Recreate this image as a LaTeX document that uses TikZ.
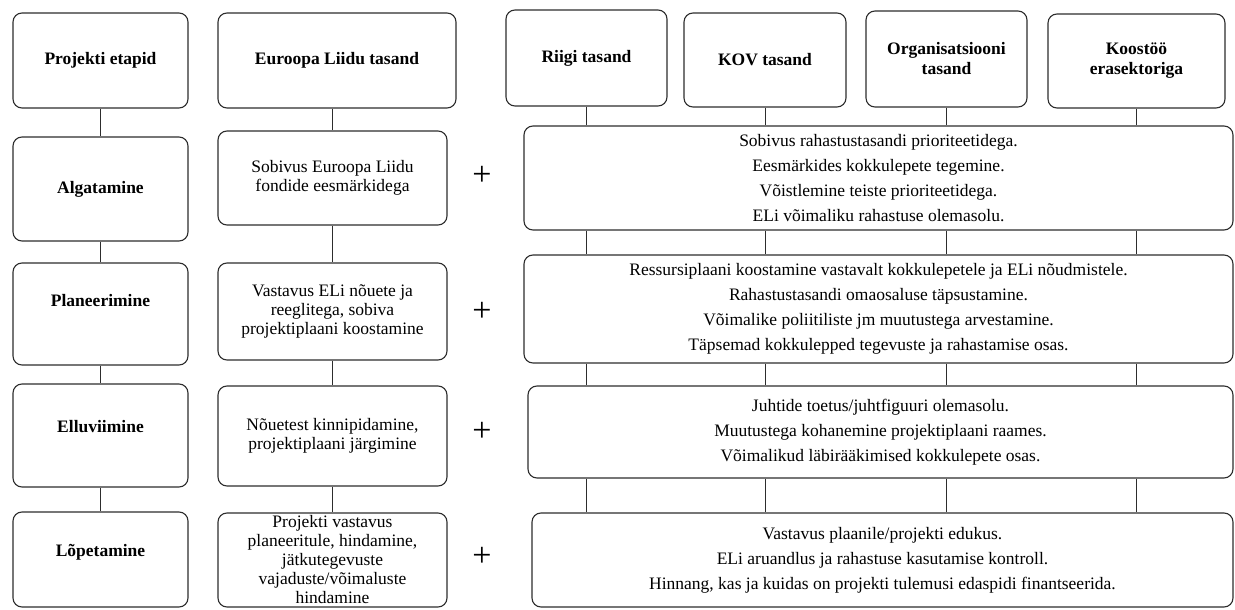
\documentclass[tikz,border=0pt]{standalone}
\usepackage{fontspec}
\setmainfont{Liberation Serif}
\usepackage{tikz}
\definecolor{boxline}{RGB}{45,45,45}

\begin{document}
\begin{tikzpicture}[x=1pt,y=-1pt,
  box/.style={draw=boxline,line width=1.1pt,rounded corners=9pt,inner sep=2pt,align=center},
  head/.style={box,font=\fontsize{17.5}{20}\selectfont\bfseries},
  stage/.style={head,minimum width=175pt},
  eubox/.style={box,inner ysep=0pt,font=\fontsize{17.5}{19}\selectfont},
  bigbox/.style={box,font=\fontsize{17.5}{25}\selectfont},
  lift/.style={text depth=#1},
  link/.style={draw=boxline,line width=1pt},
  plus/.style={font=\fontsize{34}{34}\selectfont}]
  \useasboundingbox (0,0) rectangle (1235,610);
  % project stages
  \node[stage,minimum height=95pt] (p0) at (100.5,60.5) {Projekti etapid};
  \node[stage,minimum height=104pt] (p1) at (100.5,189) {Algatamine};
  \node[stage,minimum height=102pt,lift=28pt] (p2) at (100.5,314) {Planeerimine};
  \node[stage,minimum height=103pt,lift=18pt] (p3) at (100.5,435.5) {Elluviimine};
  \node[stage,minimum height=95pt,lift=18pt] (p4) at (100.5,559.5) {Lõpetamine};
  \draw[link] (p0) -- (p1);
  \draw[link] (p1) -- (p2);
  \draw[link] (p2) -- (p3);
  \draw[link] (p3) -- (p4);
  % EU level
  \node[head,minimum width=238pt,minimum height=95pt] (e0) at (337,60.5) {Euroopa Liidu tasand};
  \node[eubox,minimum width=229pt,minimum height=94pt] (e1) at (332.5,178) {Sobivus Euroopa Liidu\\fondide eesmärkidega};
  \node[eubox,minimum width=229pt,minimum height=97pt] (e2) at (332.5,311.5) {Vastavus ELi nõuete ja\\reeglitega, sobiva\\projektiplaani koostamine};
  \node[eubox,minimum width=229pt,minimum height=100pt] (e3) at (332.5,436) {Nõuetest kinnipidamine,\\projektiplaani järgimine};
  \node[eubox,minimum width=229pt,minimum height=94pt] (e4) at (332.5,560) {Projekti vastavus\\planeeritule, hindamine,\\jätkutegevuste\\vajaduste/võimaluste\\hindamine};
  \draw[link] (e1.north |- e0.south) -- (e1.north);
  \draw[link] (e1) -- (e2);
  \draw[link] (e2) -- (e3);
  \draw[link] (e3) -- (e4);
  % plus signs
  \node[plus] (plus1) at (482,176) {+};
  \node[plus] (plus2) at (482,312) {+};
  \node[plus] (plus3) at (482,432) {+};
  \node[plus] (plus4) at (482,557) {+};
  % national, local, organisation and private levels
  \node[head,minimum width=161pt,minimum height=96pt] (h1) at (586.5,58) {Riigi tasand};
  \node[head,minimum width=162pt,minimum height=94pt] (h2) at (765,60) {KOV tasand};
  \node[head,minimum width=161pt,minimum height=96pt] (h3) at (946.5,59) {Organisatsiooni\\tasand};
  \node[head,minimum width=177pt,minimum height=94pt] (h4) at (1136.5,61) {Koostöö\\erasektoriga};
  \node[bigbox,minimum width=709pt,minimum height=104pt] (r1) at (878.5,178) {Sobivus rahastustasandi prioriteetidega.\\Eesmärkides kokkulepete tegemine.\\Võistlemine teiste prioriteetidega.\\ELi võimaliku rahastuse olemasolu.};
  \node[bigbox,minimum width=709pt,minimum height=108pt] (r2) at (878.5,309) {Ressursiplaani koostamine vastavalt kokkulepetele ja ELi nõudmistele.\\Rahastustasandi omaosaluse täpsustamine.\\Võimalike poliitiliste jm muutustega arvestamine.\\Täpsemad kokkulepped tegevuste ja rahastamise osas.};
  \node[bigbox,minimum width=705pt,minimum height=92pt] (r3) at (880.5,432) {Juhtide toetus/juhtfiguuri olemasolu.\\Muutustega kohanemine projektiplaani raames.\\Võimalikud läbirääkimised kokkulepete osas.};
  \node[bigbox,minimum width=701pt,minimum height=94pt] (r4) at (882.5,560) {Vastavus plaanile/projekti edukus.\\ELi aruandlus ja rahastuse kasutamise kontroll.\\Hinnang, kas ja kuidas on projekti tulemusi edaspidi finantseerida.};
  % vertical links
  \draw[link] (h1.south) -- (h1.south |- r1.north) (h2.south) -- (h2.south |- r1.north)
    (h3.south) -- (h3.south |- r1.north) (h4.south) -- (h4.south |- r1.north);
  \draw[link] (h1 |- r1.south) -- (h1 |- r2.north) (h2 |- r1.south) -- (h2 |- r2.north)
    (h3 |- r1.south) -- (h3 |- r2.north) (h4 |- r1.south) -- (h4 |- r2.north);
  \draw[link] (h1 |- r2.south) -- (h1 |- r3.north) (h2 |- r2.south) -- (h2 |- r3.north)
    (h3 |- r2.south) -- (h3 |- r3.north) (h4 |- r2.south) -- (h4 |- r3.north);
  \draw[link] (h1 |- r3.south) -- (h1 |- r4.north) (h2 |- r3.south) -- (h2 |- r4.north)
    (h3 |- r3.south) -- (h3 |- r4.north) (h4 |- r3.south) -- (h4 |- r4.north);
\end{tikzpicture}
\end{document}
